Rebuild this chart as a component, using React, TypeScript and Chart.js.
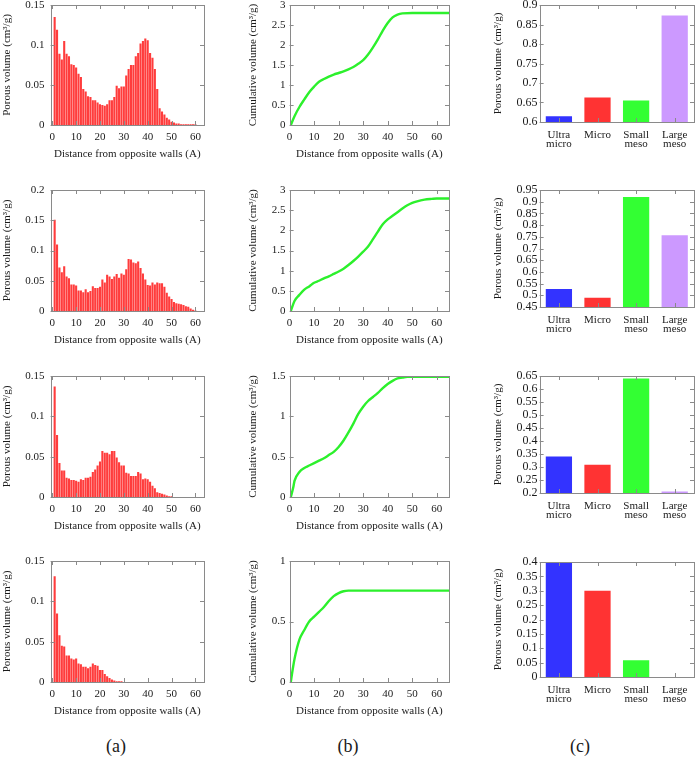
import React, { useEffect, useRef } from 'react';
import { Chart, registerables } from 'chart.js';

Chart.register(...registerables);

const FONT = "'Liberation Serif', 'Times New Roman', serif";
const TXT = '#1a1a1a';
const FRAME = '#8a8a8a';
const TICK_LEN = 4;
const BAR_RED = '#ff3c3c';
const LINE_GREEN = '#2cf02c';

// Pore size distributions, one value per 1 A bin (bin centres 1, 2, 3, ...)
const psd1 = [
  0.135, 0.119, 0.089, 0.082, 0.105, 0.089, 0.086, 0.076, 0.075, 0.072,
  0.064, 0.060, 0.045, 0.042, 0.036, 0.035, 0.031, 0.031, 0.028, 0.026,
  0.025, 0.024, 0.026, 0.031, 0.031, 0.035, 0.049, 0.046, 0.048, 0.048,
  0.062, 0.070, 0.075, 0.075, 0.086, 0.090, 0.102, 0.105, 0.108, 0.106,
  0.090, 0.084, 0.070, 0.045, 0.021, 0.017, 0.013, 0.009, 0.007, 0.004,
  0.003, 0.002, 0.002, 0.001, 0.001, 0.001, 0.001, 0.001, 0.001, 0.001,
];
const psd2 = [
  0.151, 0.110, 0.072, 0.064, 0.074, 0.057, 0.054, 0.044, 0.044, 0.042,
  0.034, 0.034, 0.031, 0.036, 0.031, 0.033, 0.041, 0.038, 0.038, 0.040,
  0.052, 0.047, 0.060, 0.057, 0.053, 0.057, 0.061, 0.055, 0.062, 0.060,
  0.069, 0.086, 0.085, 0.080, 0.079, 0.082, 0.071, 0.062, 0.052, 0.043,
  0.042, 0.047, 0.044, 0.047, 0.046, 0.046, 0.040, 0.030, 0.024, 0.020,
  0.015, 0.013, 0.012, 0.011, 0.010, 0.008, 0.007, 0.004, 0.002, 0.001,
];
const psd3 = [
  0.137, 0.077, 0.042, 0.033, 0.033, 0.024, 0.023, 0.021, 0.021, 0.020,
  0.019, 0.022, 0.021, 0.024, 0.024, 0.025, 0.031, 0.034, 0.039, 0.044,
  0.057, 0.055, 0.055, 0.053, 0.057, 0.057, 0.049, 0.043, 0.039, 0.039,
  0.030, 0.029, 0.026, 0.026, 0.026, 0.031, 0.029, 0.022, 0.023, 0.022,
  0.019, 0.014, 0.011, 0.006, 0.005, 0.004, 0.003, 0.002, 0.001, 0.001,
];
const psd4 = [
  0.131, 0.085, 0.058, 0.045, 0.044, 0.033, 0.033, 0.029, 0.028, 0.029,
  0.023, 0.022, 0.019, 0.019, 0.017, 0.019, 0.023, 0.021, 0.020, 0.015,
  0.015, 0.010, 0.007, 0.005, 0.003, 0.002, 0.001, 0.001, 0.001,
];

// Cumulative pore volume against distance from opposite walls
const cumX1 = [0.5, 2, 4, 6, 8, 10, 12, 14, 16, 18, 20, 22, 24, 26, 28, 30, 32, 34, 36, 38, 40, 42, 44, 46, 50, 65];
const cumY1 = [0, 0.22, 0.45, 0.64, 0.82, 0.96, 1.08, 1.15, 1.21, 1.26, 1.30, 1.34, 1.39, 1.45, 1.53, 1.62, 1.76, 1.94, 2.14, 2.36, 2.55, 2.69, 2.76, 2.79, 2.80, 2.80];
const cumX2 = [0.5, 2, 4, 6, 8, 10, 12, 14, 16, 18, 20, 22, 24, 26, 28, 30, 32, 34, 36, 38, 40, 42, 44, 46, 48, 50, 52, 55, 58, 60, 65];
const cumY2 = [0, 0.25, 0.40, 0.53, 0.61, 0.70, 0.75, 0.81, 0.86, 0.92, 0.98, 1.05, 1.14, 1.24, 1.35, 1.47, 1.60, 1.78, 1.97, 2.15, 2.27, 2.36, 2.45, 2.54, 2.62, 2.68, 2.72, 2.76, 2.78, 2.79, 2.79];
const cumX3 = [0.5, 1.5, 2, 4, 6, 8, 10, 12, 14, 16, 18, 20, 22, 24, 26, 28, 30, 32, 34, 36, 38, 40, 42, 44, 46, 48, 65];
const cumY3 = [0, 0.12, 0.2, 0.31, 0.36, 0.39, 0.42, 0.45, 0.48, 0.52, 0.56, 0.62, 0.70, 0.80, 0.91, 1.03, 1.12, 1.19, 1.24, 1.29, 1.35, 1.40, 1.44, 1.47, 1.48, 1.49, 1.49];
const cumX4 = [0.5, 1, 2, 4, 6, 8, 10, 12, 14, 16, 18, 20, 22, 24, 65];
const cumY4 = [0, 0.07, 0.19, 0.35, 0.43, 0.50, 0.54, 0.58, 0.62, 0.67, 0.71, 0.735, 0.75, 0.755, 0.755];

// Pore volume per pore class
const classLabels = [['Ultra', 'micro'], ['Micro'], ['Small', 'meso'], ['Large', 'meso']];
const classColors = ['#3333ff', '#ff3333', '#33ff33', '#cc99ff'];
const class1 = [0.615, 0.663, 0.655, 0.873];
const class2 = [0.527, 0.490, 0.920, 0.757];
const class3 = [0.340, 0.309, 0.640, 0.206];
const class4 = [0.397, 0.300, 0.058, 0];

// Tick values
const distTicks = [0, 10, 20, 30, 40, 50, 60];
const psdTicksA = [0, 0.05, 0.1, 0.15];
const psdTicksB = [0, 0.05, 0.1, 0.15, 0.2];
const cumTicksA = [0, 0.5, 1, 1.5, 2, 2.5, 3];
const cumTicksB = [0, 0.5, 1, 1.5];
const cumTicksC = [0, 0.5, 1];
const classTicks1 = [0.6, 0.65, 0.7, 0.75, 0.8, 0.85, 0.9];
const classTicks2 = [0.45, 0.5, 0.55, 0.6, 0.65, 0.7, 0.75, 0.8, 0.85, 0.9, 0.95];
const classTicks3 = [0.2, 0.25, 0.3, 0.35, 0.4, 0.45, 0.5, 0.55, 0.6, 0.65];
const classTicks4 = [0, 0.05, 0.1, 0.15, 0.2, 0.25, 0.3, 0.35, 0.4];

const PSD_TITLE = 'Porous volume (cm³/g)';
const CUM_TITLE = 'Cumulative volume (cm³/g)';
const DIST_TITLE = 'Distance from opposite walls (A)';

const TITLE_SIZE = 11;
const TITLE_LH = 1.2;
const PAD = 14;

const fmt = (v: number) => String(Math.round(v * 1000) / 1000);

// Frame on all four sides with inward tick marks on every side
const framePlugin = {
  id: 'frame',
  afterDatasetsDraw(chart: any) {
    const { ctx, chartArea: a, scales } = chart;
    const line = (x1: number, y1: number, x2: number, y2: number) => {
      ctx.beginPath();
      ctx.moveTo(x1, y1);
      ctx.lineTo(x2, y2);
      ctx.stroke();
    };
    ctx.save();
    ctx.strokeStyle = FRAME;
    ctx.lineWidth = 1;
    const sx = scales.x;
    const sy = scales.y;
    sx.ticks.forEach((_: any, i: number) => {
      const px = Math.round(sx.getPixelForTick(i)) + 0.5;
      line(px, a.bottom, px, a.bottom - TICK_LEN);
      line(px, a.top, px, a.top + TICK_LEN);
    });
    sy.ticks.forEach((_: any, i: number) => {
      const py = Math.round(sy.getPixelForTick(i)) + 0.5;
      line(a.left, py, a.left + TICK_LEN, py);
      line(a.right, py, a.right - TICK_LEN, py);
    });
    ctx.strokeRect(Math.round(a.left) + 0.5, Math.round(a.top) + 0.5, Math.round(a.right - a.left), Math.round(a.bottom - a.top));
    ctx.restore();
  },
};

type Geo = {
  plotL: number; plotR: number; plotT: number; plotB: number;
  titleX: number; gap: number; xH: number; xPad: number; tickSize: number;
};

function yAxis(ticks: number[], title: string, geo: Geo) {
  const scaleLeft = geo.titleX - (TITLE_SIZE * TITLE_LH) / 2;
  const width = geo.plotL - scaleLeft;
  return {
    type: 'linear',
    min: ticks[0],
    max: ticks[ticks.length - 1],
    afterBuildTicks: (s: any) => { s.ticks = ticks.map((v) => ({ value: v })); },
    afterFit: (s: any) => { s.width = width; },
    grid: { display: false, drawTicks: false },
    border: { display: false },
    ticks: {
      autoSkip: false,
      padding: geo.gap,
      color: TXT,
      font: { family: FONT, size: geo.tickSize },
      callback: (v: any) => fmt(Number(v)),
    },
    title: {
      display: true,
      text: title,
      color: TXT,
      padding: 0,
      font: { family: FONT, size: TITLE_SIZE, lineHeight: TITLE_LH },
    },
  };
}

function xLinear(min: number, max: number, geo: Geo) {
  return {
    type: 'linear',
    min,
    max,
    offset: false,
    afterBuildTicks: (s: any) => { s.ticks = distTicks.map((v) => ({ value: v })); },
    afterFit: (s: any) => { s.height = geo.xH; },
    grid: { display: false, drawTicks: false },
    border: { display: false },
    ticks: {
      autoSkip: false,
      maxRotation: 0,
      padding: geo.xPad,
      color: TXT,
      font: { family: FONT, size: 11, lineHeight: 1.2 },
      callback: (v: any) => fmt(Number(v)),
    },
    title: {
      display: true,
      text: DIST_TITLE,
      color: TXT,
      padding: 0,
      font: { family: FONT, size: TITLE_SIZE, lineHeight: TITLE_LH },
    },
  };
}

function baseOptions(scales: any) {
  return {
    responsive: false,
    animation: false,
    events: [],
    layout: { padding: PAD },
    plugins: { legend: { display: false }, tooltip: { enabled: false } },
    scales,
  };
}

function psdConfig(values: number[], ticks: number[], geo: Geo) {
  return {
    type: 'bar',
    data: {
      datasets: [{
        data: values.map((v, i) => ({ x: i + 1, y: v })),
        backgroundColor: BAR_RED,
        borderWidth: 0,
        barPercentage: 0.88,
        categoryPercentage: 1,
      }],
    },
    options: baseOptions({ x: xLinear(-0.7, 63.6, geo), y: yAxis(ticks, PSD_TITLE, geo) }),
    plugins: [framePlugin],
  };
}

function cumConfig(xs: number[], ys: number[], ticks: number[], geo: Geo) {
  return {
    type: 'line',
    data: {
      datasets: [{
        data: xs.map((x, i) => ({ x, y: ys[i] })),
        borderColor: LINE_GREEN,
        borderWidth: 2.4,
        pointRadius: 0,
        fill: false,
        cubicInterpolationMode: 'monotone',
      }],
    },
    options: baseOptions({ x: xLinear(0, 65, geo), y: yAxis(ticks, CUM_TITLE, geo) }),
    plugins: [framePlugin],
  };
}

function classConfig(values: number[], ticks: number[], geo: Geo) {
  return {
    type: 'bar',
    data: {
      labels: classLabels,
      datasets: [{
        data: values,
        backgroundColor: classColors,
        borderWidth: 0,
        barPercentage: 0.68,
        categoryPercentage: 1,
      }],
    },
    options: baseOptions({
      x: {
        type: 'category',
        offset: true,
        afterFit: (s: any) => { s.height = geo.xH; },
        grid: { display: false, drawTicks: false },
        border: { display: false },
        ticks: {
          autoSkip: false,
          maxRotation: 0,
          padding: geo.xPad,
          color: TXT,
          font: { family: FONT, size: 11, lineHeight: 0.85 },
        },
      },
      y: yAxis(ticks, PSD_TITLE, geo),
    }),
    plugins: [framePlugin],
  };
}

function Panel({ geo, config }: { geo: Geo; config: any }) {
  const ref = useRef<HTMLCanvasElement | null>(null);
  const scaleLeft = geo.titleX - (TITLE_SIZE * TITLE_LH) / 2;
  const left = scaleLeft - PAD;
  const top = geo.plotT - PAD;
  const width = Math.round(geo.plotR + PAD - left);
  const height = Math.round(geo.plotB + geo.xH + PAD - top);
  useEffect(() => {
    const chart = new Chart(ref.current as HTMLCanvasElement, config);
    return () => chart.destroy();
  }, []);
  return (
    <canvas
      ref={ref}
      width={width}
      height={height}
      style={{ position: 'absolute', left, top, width, height }}
    />
  );
}

const colA = { plotL: 51, plotR: 204, titleX: 8, gap: 6, xH: 36, xPad: 5.4, tickSize: 11 };
const colB = { plotL: 290, plotR: 449, titleX: 254, gap: 4, xH: 36, xPad: 5.4, tickSize: 11 };
const colC = { plotL: 540, plotR: 694, titleX: 499, gap: 2, xH: 36, xPad: 8.5, tickSize: 12 };
const rowsAB = [[5, 125], [190, 311], [376, 497], [561, 682]];
const rowsC = [[5, 122], [190, 307], [376, 493], [562, 677]];

const captionStyle = (cx: number): React.CSSProperties => ({
  position: 'absolute',
  left: cx - 40,
  width: 80,
  top: 735,
  textAlign: 'center',
  fontFamily: FONT,
  fontSize: 18,
  lineHeight: '22px',
  color: TXT,
});

export default function App() {
  const psd = [psd1, psd2, psd3, psd4];
  const psdTicks = [psdTicksA, psdTicksB, psdTicksA, psdTicksA];
  const cumX = [cumX1, cumX2, cumX3, cumX4];
  const cumY = [cumY1, cumY2, cumY3, cumY4];
  const cumTicks = [cumTicksA, cumTicksA, cumTicksB, cumTicksC];
  const cls = [class1, class2, class3, class4];
  const clsTicks = [classTicks1, classTicks2, classTicks3, classTicks4];

  return (
    <div style={{ position: 'absolute', left: 0, top: 0, width: 696, height: 758, overflow: 'hidden', background: '#fff' }}>
      {rowsAB.map(([t, b], r) => {
        const gA = { ...colA, plotT: t, plotB: b };
        const gB = { ...colB, plotT: t, plotB: b };
        const gC = { ...colC, plotT: rowsC[r][0], plotB: rowsC[r][1] };
        return (
          <React.Fragment key={r}>
            <Panel geo={gA} config={psdConfig(psd[r], psdTicks[r], gA)} />
            <Panel geo={gB} config={cumConfig(cumX[r], cumY[r], cumTicks[r], gB)} />
            <Panel geo={gC} config={classConfig(cls[r], clsTicks[r], gC)} />
          </React.Fragment>
        );
      })}
      <div style={captionStyle(116)}>(a)</div>
      <div style={captionStyle(348)}>(b)</div>
      <div style={captionStyle(580)}>(c)</div>
    </div>
  );
}
